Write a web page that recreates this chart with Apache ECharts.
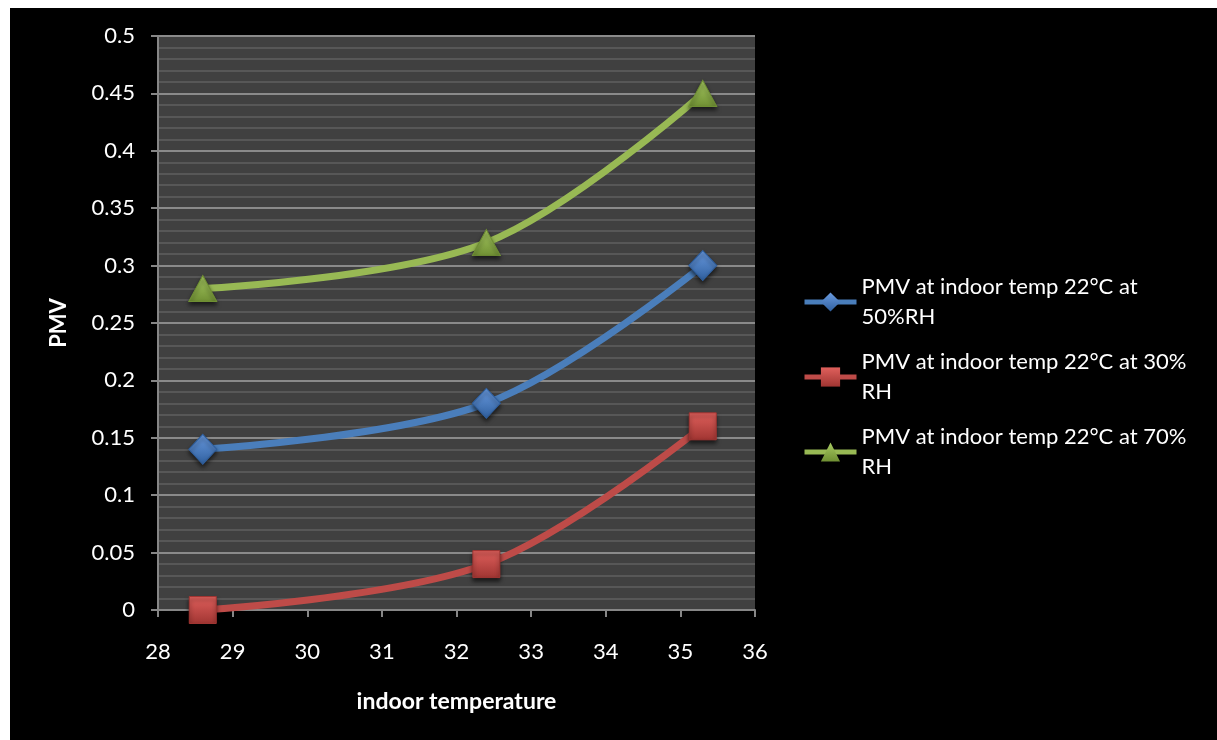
<!DOCTYPE html>
<html>
<head>
<meta charset="utf-8">
<style>
  html, body { margin: 0; padding: 0; background: #ffffff; }
  #chart { position: absolute; left: 10px; top: 8px; width: 1207px; height: 732px; background: #000000; }
</style>
<script src="https://cdn.jsdelivr.net/npm/echarts@6/dist/echarts.min.js"></script>
</head>
<body>
<div id="chart"></div>
<script>
// Indoor temperature samples (°C) and PMV at three humidity levels
const temperatures = [28.6, 32.4, 35.3];
const pmv50 = [0.14, 0.18, 0.30];
const pmv30 = [0.00, 0.04, 0.16];
const pmv70 = [0.28, 0.32, 0.45];

const seriesNames = [
  'PMV at indoor temp 22°C at 50%RH',
  'PMV at indoor temp 22°C at 30% RH',
  'PMV at indoor temp 22°C at 70% RH'
];
// Wrapped legend text
const legendText = {
  [seriesNames[0]]: 'PMV at indoor temp 22°C at\n50%RH',
  [seriesNames[1]]: 'PMV at indoor temp 22°C at 30%\nRH',
  [seriesNames[2]]: 'PMV at indoor temp 22°C at 70%\nRH'
};

const FONT = 'Lato, "Open Sans", sans-serif';

function pairs(ys) { return temperatures.map((x, i) => [x, ys[i]]); }

function bevel(light, dark) {
  return new echarts.graphic.LinearGradient(0, 0, 0, 1, [
    { offset: 0, color: light },
    { offset: 1, color: dark }
  ]);
}

function makeSeries(name, values, color, light, dark, symbol, size) {
  return {
    name: name,
    type: 'line',
    data: pairs(values),
    smooth: 0.35,
    symbol: symbol,
    symbolSize: size,
    lineStyle: { color: color, width: 7 },
    itemStyle: {
      color: bevel(light, dark),
      borderColor: dark,
      borderWidth: 1,
      shadowColor: 'rgba(0,0,0,0.6)',
      shadowBlur: 4,
      shadowOffsetY: 3
    },
    emphasis: { disabled: true },
    z: 3
  };
}

const chart = echarts.init(document.getElementById('chart'), null, { renderer: 'canvas' });

chart.setOption({
  backgroundColor: '#000000',
  animation: false,
  textStyle: { fontFamily: FONT },
  grid: {
    left: 148, top: 28, right: 462, bottom: 130,
    show: true, backgroundColor: '#404040', borderWidth: 0
  },
  legend: {
    orient: 'vertical',
    left: 792,
    top: 249,
    padding: 0,
    itemWidth: 52,
    itemHeight: 24,
    itemGap: -15,
    formatter: name => legendText[name],
    lineStyle: { width: 5 },
    itemStyle: { borderWidth: 0, shadowBlur: 0 },
    textStyle: {
      color: '#ffffff', fontSize: 22, fontFamily: FONT,
      lineHeight: 30, padding: [30, 0, 0, 0]
    },
    data: seriesNames
  },
  xAxis: {
    type: 'value',
    min: 28, max: 36, interval: 1,
    name: 'indoor temperature',
    nameLocation: 'middle',
    nameGap: 80,
    nameTextStyle: { color: '#ffffff', fontSize: 23, fontWeight: 'bold', fontFamily: FONT },
    axisLine: { show: true, lineStyle: { color: '#868686', width: 2 } },
    axisTick: { show: true, inside: false, length: 7, lineStyle: { color: '#868686', width: 2 } },
    axisLabel: { color: '#ffffff', fontSize: 22, margin: 31, fontFamily: FONT },
    splitLine: { show: false }
  },
  yAxis: {
    type: 'value',
    min: 0, max: 0.5, interval: 0.05,
    name: 'PMV',
    nameLocation: 'middle',
    nameRotate: 90,
    nameGap: 88,
    nameTextStyle: { color: '#ffffff', fontSize: 22, fontWeight: 'bold', fontFamily: FONT },
    axisLine: { show: true, lineStyle: { color: '#868686', width: 2 } },
    axisTick: { show: true, inside: false, length: 7, lineStyle: { color: '#868686', width: 2 } },
    axisLabel: {
      color: '#ffffff', fontSize: 22, margin: 23, fontFamily: FONT,
      formatter: v => String(parseFloat(v.toFixed(2)))
    },
    splitLine: { show: true, lineStyle: { color: '#8a8a8a', width: 2 } },
    minorTick: { show: false, splitNumber: 5 },
    minorSplitLine: { show: true, lineStyle: { color: '#575757', width: 2 } }
  },
  series: [
    makeSeries(seriesNames[0], pmv50, '#4a7ebb', '#6a9be0', '#2f5f9e', 'diamond', [28, 30]),
    makeSeries(seriesNames[1], pmv30, '#be4b48', '#e0605c', '#a03532', 'rect', 27),
    makeSeries(seriesNames[2], pmv70, '#98b954', '#a9cc63', '#6f8f33', 'triangle', [28, 26])
  ]
});
</script>
</body>
</html>
